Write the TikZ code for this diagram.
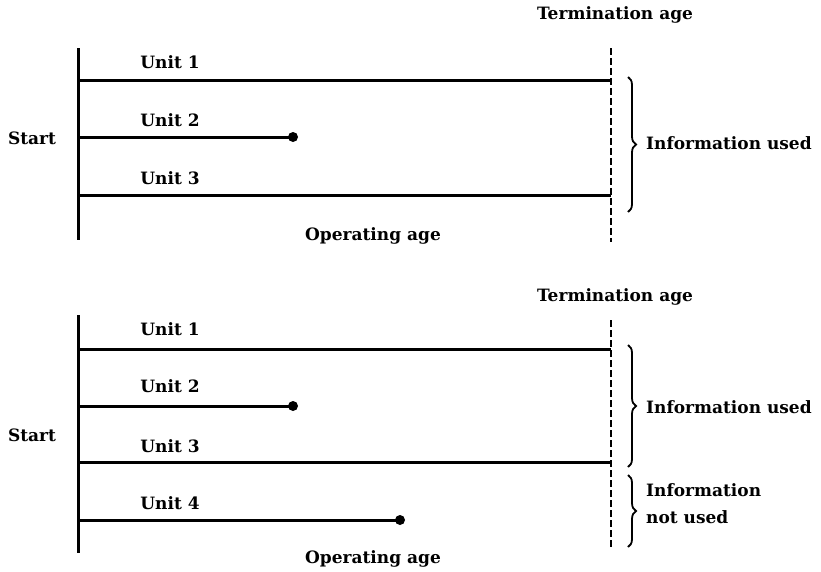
\documentclass[tikz,border=0pt]{standalone}
\usepackage{fontspec}
\setmainfont{DejaVu Serif}
\usetikzlibrary{decorations.pathreplacing}
\begin{document}
\begin{tikzpicture}[x=1pt,y=-1pt,
  lbl/.style={font=\fontsize{17}{20}\selectfont\bfseries, inner sep=0pt},
  axisline/.style={line width=3pt},
  unitline/.style={line width=3pt},
  termline/.style={line width=2.6pt, dash pattern=on 7pt off 3pt},
  brc/.style={line width=1.8pt, decorate, decoration={brace, amplitude=8pt}},
  enddot/.style={circle, fill=black, inner sep=0pt, minimum size=10pt}]
\useasboundingbox (0,0) rectangle (821,571);
% ---------- top panel ----------
\coordinate (s1t) at (78,48);
\coordinate (s1b) at (78,240);
\draw[axisline] (s1t) -- (s1b);
\coordinate (a1) at (78,80);  \coordinate (a1e) at (611,80);
\coordinate (a2) at (78,137); \node[enddot] (a2e) at (293,137) {};
\coordinate (a3) at (78,195); \coordinate (a3e) at (611,195);
\draw[unitline] (a1) -- (a1e);
\draw[unitline] (a2) -- (a2e.center);
\draw[unitline] (a3) -- (a3e);
\coordinate (t1t) at (611,48); \coordinate (t1b) at (611,242);
\draw[termline] (t1t) -- (t1b);
\node[lbl] (u11) at (170,62) {Unit 1};
\node[lbl] (u12) at (170,120) {Unit 2};
\node[lbl] (u13) at (170,178) {Unit 3};
\node[lbl] (st1) at (32,138) {Start};
\node[lbl] (ta1) at (615,15) {Termination age};
\node[lbl] (oa1) at (373,236) {Operating age};
\coordinate (b1t) at (628,77); \coordinate (b1b) at (628,212);
\draw[brc] (b1t) -- (b1b);
\node[lbl, anchor=west] (iu1) at (646,143) {Information used};
% ---------- bottom panel ----------
\coordinate (s2t) at (78,315);
\coordinate (s2b) at (78,553);
\draw[axisline] (s2t) -- (s2b);
\coordinate (c1) at (78,349); \coordinate (c1e) at (611,349);
\coordinate (c2) at (78,406); \node[enddot] (c2e) at (293,406) {};
\coordinate (c3) at (78,462); \coordinate (c3e) at (611,462);
\coordinate (c4) at (78,520); \node[enddot] (c4e) at (400,520) {};
\draw[unitline] (c1) -- (c1e);
\draw[unitline] (c2) -- (c2e.center);
\draw[unitline] (c3) -- (c3e);
\draw[unitline] (c4) -- (c4e.center);
\coordinate (t2t) at (611,320); \coordinate (t2b) at (611,550);
\draw[termline] (t2t) -- (t2b);
\node[lbl] (u21) at (170,329) {Unit 1};
\node[lbl] (u22) at (170,386) {Unit 2};
\node[lbl] (u23) at (170,446) {Unit 3};
\node[lbl] (u24) at (170,503) {Unit 4};
\node[lbl] (st2) at (32,435) {Start};
\node[lbl] (ta2) at (615,297) {Termination age};
\node[lbl] (oa2) at (373,559) {Operating age};
\coordinate (b2t) at (628,345); \coordinate (b2b) at (628,467);
\draw[brc] (b2t) -- (b2b);
\node[lbl, anchor=west] (iu2) at (646,407) {Information used};
\coordinate (b3t) at (628,475); \coordinate (b3b) at (628,547);
\draw[brc] (b3t) -- (b3b);
\node[lbl, anchor=west, align=left] (inu) at (646,504) {Information\\[7pt]not used};
\end{tikzpicture}
\end{document}
